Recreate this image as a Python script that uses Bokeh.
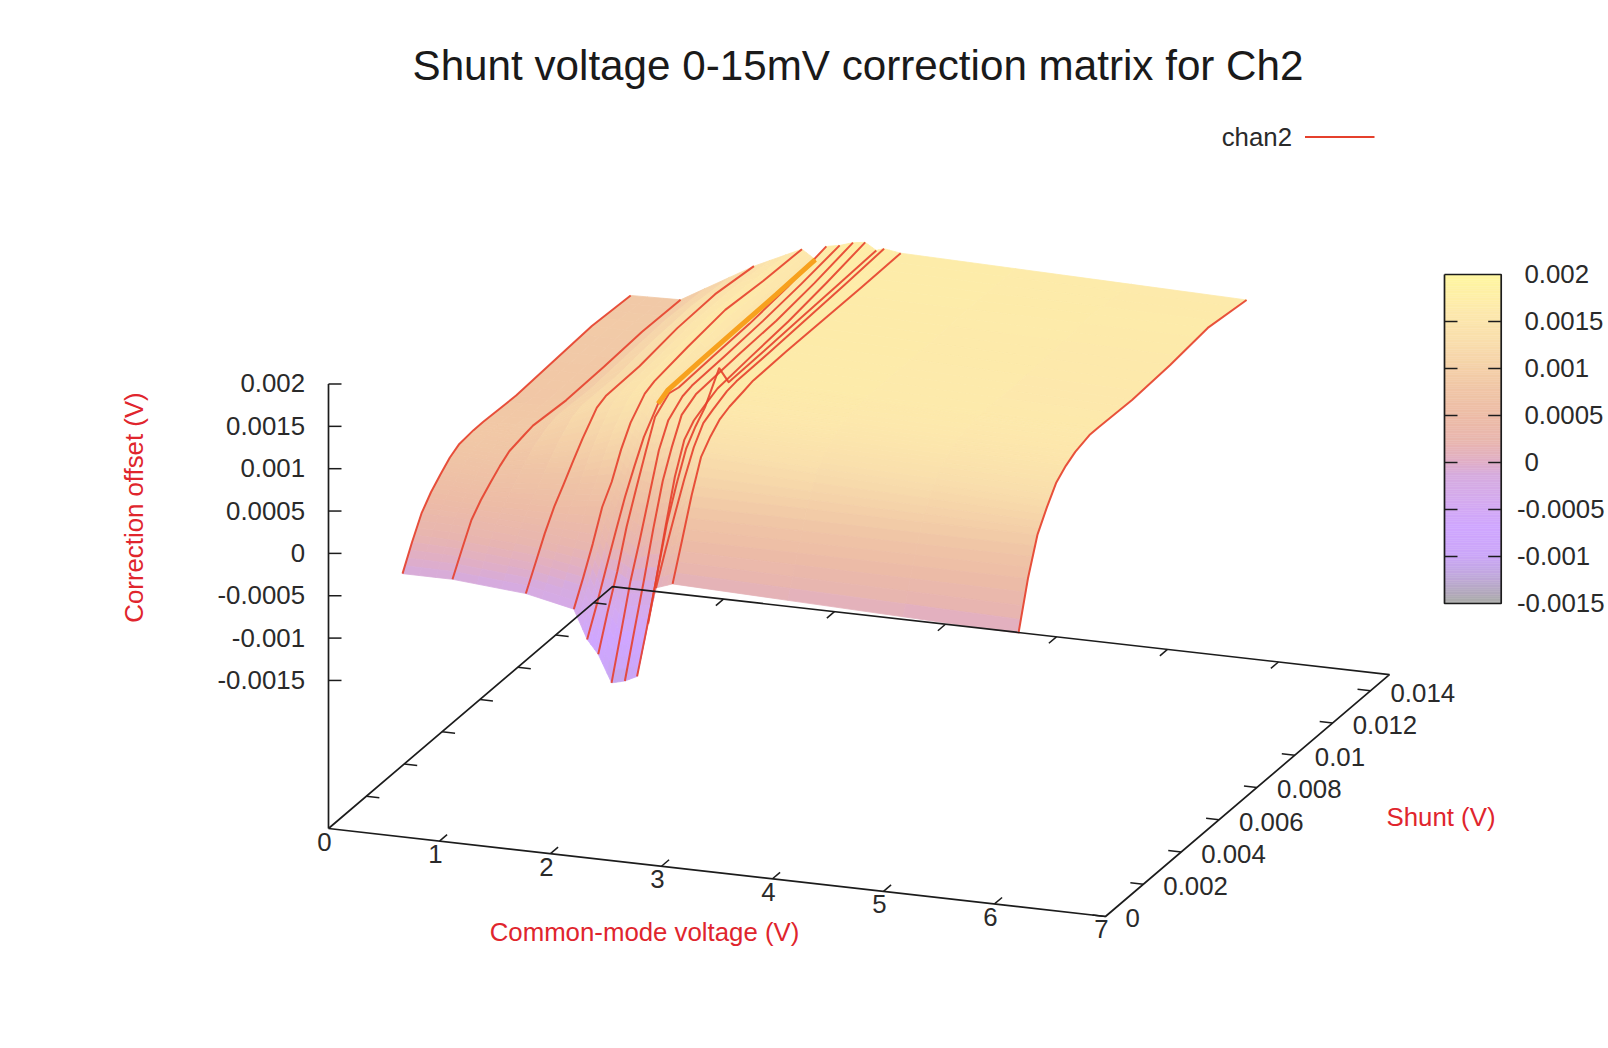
from bokeh.plotting import figure
from bokeh.models import Range1d
from bokeh.core.properties import value
from bokeh.embed import file_html
from bokeh.resources import INLINE
import numpy as np

# ---- chart values -------------------------------------------------------
title_text = "Shunt voltage 0-15mV correction matrix for Ch2"
x_label, y_label, z_label = "Common-mode voltage (V)", "Shunt (V)", "Correction offset (V)"
series_name = "chan2"

common_mode_v = [0.667, 1.117, 1.778, 2.21, 2.33, 2.43, 2.55, 2.67, 2.78, 2.88, 2.95, 3.10, 6.216]
shunt_mv = [0, 0.5, 1, 1.5, 2, 2.5, 3, 3.75, 4.25, 6, 8, 10, 12.05]

# correction offset in mV along each common-mode voltage
offset_01 = [-0.14, 0.135, 0.38, 0.535, 0.65, 0.755, 0.82, 0.84, 0.84, 0.82, 0.85, 0.88, 0.85]
offset_02 = [-0.14, 0.12, 0.37, 0.51, 0.62, 0.72, 0.80, 0.84, 0.865, 0.83, 0.845, 0.875, 0.865]
offset_03 = [-0.21, 0.05, 0.31, 0.53, 0.70, 0.88, 1.05, 1.27, 1.32, 1.33, 1.40, 1.42, 1.36]
offset_04 = [-0.33, -0.05, 0.25, 0.59, 0.79, 1.08, 1.30, 1.50, 1.55, 1.62, 1.68, 1.64, 1.625]
offset_05 = [-0.67, -0.36, -0.02, 0.31, 0.63, 0.90, 1.15, 1.40, 1.46, 1.48, 1.49, 1.50, 1.52]
offset_06 = [-0.83, -0.42, -0.05, 0.39, 0.74, 1.08, 1.40, 1.54, 1.51, 1.53, 1.55, 1.60, 1.69]
offset_07 = [-1.15, -0.65, -0.14, 0.26, 0.69, 1.12, 1.38, 1.52, 1.55, 1.57, 1.60, 1.65, 1.72]
offset_08 = [-1.11, -0.61, -0.12, 0.40, 0.87, 1.19, 1.46, 1.56, 1.57, 1.60, 1.62, 1.68, 1.77]
offset_09 = [-1.04, -0.58, -0.10, 0.44, 0.94, 1.28, 1.41, 1.50, 1.55, 1.59, 1.63, 1.70, 1.79]
offset_10 = [-0.40, 0.12, 0.60, 0.96, 1.28, 1.45, 1.58, 1.90, 1.64, 1.65, 1.67, 1.69, 1.71]
offset_11 = [0.03, 0.38, 0.71, 1.03, 1.31, 1.50, 1.56, 1.64, 1.66, 1.67, 1.69, 1.71, 1.74]
offset_12 = [0.10, 0.52, 0.95, 1.31, 1.46, 1.57, 1.62, 1.66, 1.69, 1.70, 1.70, 1.70, 1.71]
offset_13 = [-0.02, 0.53, 0.95, 1.18, 1.38, 1.48, 1.55, 1.605, 1.605, 1.59, 1.62, 1.68, 1.62]

x_ticks = [0, 1, 2, 3, 4, 5, 6, 7]
y_ticks = [0, 0.002, 0.004, 0.006, 0.008, 0.01, 0.012, 0.014]
y_tick_labels = ["0", "0.002", "0.004", "0.006", "0.008", "0.01", "0.012", "0.014"]
z_ticks = [0.002, 0.0015, 0.001, 0.0005, 0, -0.0005, -0.001, -0.0015]
z_tick_labels = ["0.002", "0.0015", "0.001", "0.0005", "0", "-0.0005", "-0.001", "-0.0015"]

# colour palette (value in mV -> colour)
palette_mv = [-1.5, -1.25, -1.0, -0.7, -0.4, -0.14, 0.0, 0.2, 0.5, 0.8, 1.0, 1.3, 1.6, 2.0]
palette_rgb = [(170, 170, 170), (190, 168, 215), (203, 166, 248), (207, 166, 255), (212, 170, 238),
               (214, 171, 222), (224, 174, 198), (232, 181, 176), (237, 188, 166), (240, 198, 166),
               (244, 208, 168), (249, 222, 172), (253, 232, 172), (255, 247, 160)]

# ---- view (gnuplot-like orthographic projection, in page pixels) ---------
X_MAX, Y_MAX_MV, Z_FLOOR_MV = 7.0, 15.0, -3.248
ORIGIN = (328.0, 828.0)
PER_VOLT = (111.0, 12.57)
PER_MV_SHUNT = (18.93, -16.13)
PER_MV_OFFSET = 84.7
INK, RED = "#1c1c1c", "#e5402c"
FONT = value("Liberation Sans")


def project(x, s, z=Z_FLOOR_MV):
    x, s, z = np.asarray(x, float), np.asarray(s, float), np.asarray(z, float)
    return (ORIGIN[0] + PER_VOLT[0] * x + PER_MV_SHUNT[0] * s,
            ORIGIN[1] + PER_VOLT[1] * x + PER_MV_SHUNT[1] * s - PER_MV_OFFSET * (z - Z_FLOOR_MV))


def colour(mv):
    rgb = [np.interp(mv, palette_mv, [c[i] for c in palette_rgb]) for i in range(3)]
    return "#%02x%02x%02x" % tuple(int(round(v)) for v in rgb)


p = figure(width=1608, height=1048, x_range=Range1d(0, 1608), y_range=Range1d(1048, 0),
           output_backend="svg", toolbar_location=None, min_border=0)
p.axis.visible = False
p.grid.visible = False
p.outline_line_color = None
p.background_fill_color = "white"
p.border_fill_color = "white"

# ---- surface -------------------------------------------------------------
offsets = np.array([offset_01, offset_02, offset_03, offset_04, offset_05, offset_06, offset_07,
                    offset_08, offset_09, offset_10, offset_11, offset_12, offset_13])
xv = np.array(common_mode_v)
sv = np.array(shunt_mv)
NI, NJ = 3, 4
pxs, pys, cols = [], [], []
for j in range(len(sv) - 2, -1, -1):
    for m in range(NJ - 1, -1, -1):
        v0, v1 = m / NJ, (m + 1) / NJ
        for i in range(len(xv) - 1):
            for n in range(NI):
                u0, u1 = n / NI, (n + 1) / NI

                def corner(u, w):
                    a = offsets[i, j] * (1 - u) + offsets[i + 1, j] * u
                    b = offsets[i, j + 1] * (1 - u) + offsets[i + 1, j + 1] * u
                    return (xv[i] * (1 - u) + xv[i + 1] * u, sv[j] * (1 - w) + sv[j + 1] * w,
                            a * (1 - w) + b * w)

                cs = [corner(u0, v0), corner(u1, v0), corner(u1, v1), corner(u0, v1)]
                xs, ys = zip(*[project(*c) for c in cs])
                pxs.append([float(a) for a in xs])
                pys.append([float(a) for a in ys])
                cols.append(colour(np.mean([c[2] for c in cs])))
p.patches(pxs, pys, fill_color=cols, line_color=cols, line_width=0.8)

# constant common-mode lines
for i in range(len(xv)):
    lx, ly = project(xv[i], sv, offsets[i])
    p.line(lx, ly, line_color=RED, line_width=2.0, line_alpha=0.9, line_join="round")

# orange fold along the fifth line
ox, oy = project(xv[4], sv[7:], offsets[4, 7:])
p.line(ox, oy, line_color="#f7a11e", line_width=5.0)

# ---- frame and ticks ------------------------------------------------------
fx, fy = project([0, X_MAX, X_MAX, 0, 0], [0, 0, Y_MAX_MV, Y_MAX_MV, 0])
p.line(fx, fy, line_color=INK, line_width=1.7)
zx, zy = project([0, 0], [0, 0], [Z_FLOOR_MV, 2.0])
p.line(zx, zy, line_color=INK, line_width=1.7)

TICK_X, TICK_S = 0.117, 0.4
seg = []
for t in x_ticks[1:-1]:
    seg.append(project([t, t], [0, TICK_S]))
    seg.append(project([t, t], [Y_MAX_MV, Y_MAX_MV - TICK_S]))
for t in y_ticks:
    s = t * 1000
    if s > 0:
        seg.append(project([0, TICK_X], [s, s]))
    seg.append(project([X_MAX, X_MAX - TICK_X], [s, s]))
for t in z_ticks:
    a, b = project([0, 0], [0, 0], [t * 1000, t * 1000])
    seg.append((np.array([a[0], a[0] + 13]), b))
p.multi_line([list(map(float, a)) for a, b in seg], [list(map(float, b)) for a, b in seg],
             line_color=INK, line_width=1.5)


def label(x, y, text, align="center", size="25.8px", color="#2a2a2a", angle=0.0):
    p.text([x], [y], text=[text], text_align=align, text_baseline="middle", text_font=FONT,
           text_font_size=size, text_color=color, angle=angle)


for t in x_ticks:
    a, b = project(t, 0)
    label(float(a) - 4, float(b) + 13, str(t))
for t, lab in zip(y_ticks, y_tick_labels):
    a, b = project(X_MAX, t * 1000)
    label(float(a) + 20, float(b) + 2, lab, align="left")
for t, lab in zip(z_ticks, z_tick_labels):
    a, b = project(0, 0, t * 1000)
    label(float(a) - 23.5, float(b) - 0.5, lab, align="right")

label(857.5, 64.5, title_text, size="42.2px", color="#1a1a1a")
label(644, 931.5, x_label, color="#e0252d")
label(1440.5, 816.5, y_label, color="#e0252d")
label(133, 507, z_label, color="#e0252d", angle=np.pi / 2)

# legend
label(1291.5, 136.5, series_name, align="right")
p.line([1304.5, 1374], [136.5, 136.5], line_color=RED, line_width=1.8)

# ---- colour box -----------------------------------------------------------
CB_L, CB_R, CB_T, CB_B = 1444.0, 1500.7, 274.0, 603.0
cb_vals = np.linspace(2.0, -1.5, 141)
cb_edges = np.linspace(CB_T, CB_B, 142)
p.quad(left=CB_L, right=CB_R, top=cb_edges[:-1], bottom=cb_edges[1:],
       fill_color=[colour(v) for v in cb_vals], line_color=[colour(v) for v in cb_vals], line_width=0.5)
p.line([CB_L, CB_R, CB_R, CB_L, CB_L], [CB_T, CB_T, CB_B, CB_B, CB_T], line_color=INK, line_width=1.7)
for t, lab in zip(z_ticks, z_tick_labels):
    yy = CB_T + (2.0 - t * 1000) / 3.5 * (CB_B - CB_T)
    if CB_T < yy < CB_B:
        p.multi_line([[CB_L, CB_L + 13], [CB_R - 13, CB_R]], [[yy, yy], [yy, yy]], line_color=INK, line_width=1.5)
    label(1516.5 if lab.startswith("-") else 1524, yy - 0.5, lab, align="left")

open("out.html", "w").write(file_html(p, INLINE))
